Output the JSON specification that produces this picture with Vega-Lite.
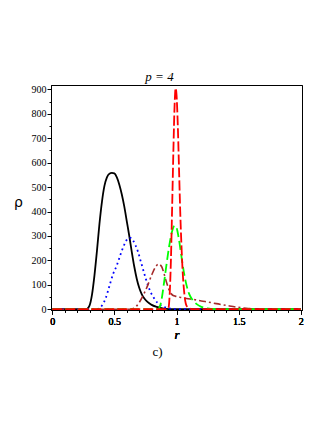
{
  "$schema": "https://vega.github.io/schema/vega-lite/v6.json",
  "autosize": "none",
  "padding": {"left": 51, "top": 85, "right": 25, "bottom": 113},
  "width": 251,
  "height": 225,
  "background": "white",
  "title": {"text": "c)", "orient": "bottom", "font": "Liberation Serif, Times New Roman, serif", "fontSize": 13, "fontWeight": "normal", "color": "black", "offset": 5, "dx": -19},
  "config": {
    "font": "Liberation Serif, Times New Roman, serif",
    "view": {"stroke": "black", "strokeWidth": 1},
    "axis": {"domainColor": "black", "tickColor": "black", "labelColor": "black", "titleColor": "black", "labelFont": "Liberation Serif, Times New Roman, serif", "labelFontSize": 10, "grid": false}
  },
  "data": {"values": [
    {"s":"black","r":0,"v":0},{"s":"black","r":0.25,"v":0},{"s":"black","r":0.28,"v":2},{"s":"black","r":0.30,"v":15},{"s":"black","r":0.32,"v":60},{"s":"black","r":0.34,"v":140},{"s":"black","r":0.36,"v":240},{"s":"black","r":0.38,"v":350},{"s":"black","r":0.40,"v":440},{"s":"black","r":0.42,"v":505},{"s":"black","r":0.44,"v":540},{"s":"black","r":0.46,"v":555},{"s":"black","r":0.48,"v":558},{"s":"black","r":0.50,"v":556},{"s":"black","r":0.52,"v":540},{"s":"black","r":0.54,"v":510},{"s":"black","r":0.56,"v":470},{"s":"black","r":0.58,"v":420},{"s":"black","r":0.60,"v":360},{"s":"black","r":0.62,"v":300},{"s":"black","r":0.64,"v":235},{"s":"black","r":0.66,"v":175},{"s":"black","r":0.68,"v":125},{"s":"black","r":0.70,"v":88},{"s":"black","r":0.72,"v":62},{"s":"black","r":0.74,"v":45},{"s":"black","r":0.76,"v":33},{"s":"black","r":0.78,"v":25},{"s":"black","r":0.80,"v":18},{"s":"black","r":0.84,"v":10},{"s":"black","r":0.88,"v":5},{"s":"black","r":0.92,"v":2},{"s":"black","r":0.96,"v":0.5},{"s":"black","r":1.0,"v":0},{"s":"black","r":2,"v":0},
    {"s":"blue","r":0,"v":0},{"s":"blue","r":0.34,"v":0},{"s":"blue","r":0.37,"v":2},{"s":"blue","r":0.40,"v":15},{"s":"blue","r":0.43,"v":45},{"s":"blue","r":0.46,"v":95},{"s":"blue","r":0.49,"v":145},{"s":"blue","r":0.52,"v":180},{"s":"blue","r":0.55,"v":225},{"s":"blue","r":0.58,"v":265},{"s":"blue","r":0.61,"v":290},{"s":"blue","r":0.63,"v":292},{"s":"blue","r":0.65,"v":282},{"s":"blue","r":0.67,"v":262},{"s":"blue","r":0.69,"v":236},{"s":"blue","r":0.71,"v":200},{"s":"blue","r":0.73,"v":165},{"s":"blue","r":0.75,"v":130},{"s":"blue","r":0.77,"v":98},{"s":"blue","r":0.79,"v":72},{"s":"blue","r":0.82,"v":45},{"s":"blue","r":0.85,"v":25},{"s":"blue","r":0.88,"v":14},{"s":"blue","r":0.92,"v":6},{"s":"blue","r":0.96,"v":2},{"s":"blue","r":1.0,"v":0.5},{"s":"blue","r":1.05,"v":0},{"s":"blue","r":2,"v":0},
    {"s":"brown","r":0,"v":0},{"s":"brown","r":0.62,"v":0},{"s":"brown","r":0.66,"v":5},{"s":"brown","r":0.70,"v":28},{"s":"brown","r":0.74,"v":65},{"s":"brown","r":0.77,"v":100},{"s":"brown","r":0.80,"v":140},{"s":"brown","r":0.83,"v":172},{"s":"brown","r":0.855,"v":185},{"s":"brown","r":0.88,"v":175},{"s":"brown","r":0.90,"v":145},{"s":"brown","r":0.92,"v":110},{"s":"brown","r":0.94,"v":80},{"s":"brown","r":0.96,"v":62},{"s":"brown","r":0.98,"v":55},{"s":"brown","r":1.00,"v":52},{"s":"brown","r":1.04,"v":48},{"s":"brown","r":1.08,"v":44},{"s":"brown","r":1.14,"v":40},{"s":"brown","r":1.20,"v":34},{"s":"brown","r":1.26,"v":29},{"s":"brown","r":1.32,"v":23},{"s":"brown","r":1.40,"v":16},{"s":"brown","r":1.48,"v":9},{"s":"brown","r":1.56,"v":4},{"s":"brown","r":1.65,"v":1},{"s":"brown","r":1.75,"v":0},{"s":"brown","r":2,"v":0},
    {"s":"green","r":0,"v":0},{"s":"green","r":0.84,"v":0},{"s":"green","r":0.86,"v":5},{"s":"green","r":0.88,"v":40},{"s":"green","r":0.90,"v":110},{"s":"green","r":0.92,"v":185},{"s":"green","r":0.94,"v":255},{"s":"green","r":0.96,"v":310},{"s":"green","r":0.98,"v":340},{"s":"green","r":0.99,"v":342},{"s":"green","r":1.00,"v":335},{"s":"green","r":1.02,"v":285},{"s":"green","r":1.04,"v":215},{"s":"green","r":1.06,"v":150},{"s":"green","r":1.08,"v":100},{"s":"green","r":1.10,"v":65},{"s":"green","r":1.13,"v":38},{"s":"green","r":1.16,"v":22},{"s":"green","r":1.20,"v":10},{"s":"green","r":1.25,"v":4},{"s":"green","r":1.30,"v":1},{"s":"green","r":1.40,"v":0},{"s":"green","r":2,"v":0},
    {"s":"red","r":0,"v":0},{"s":"red","r":0.92,"v":0},{"s":"red","r":0.935,"v":5},{"s":"red","r":0.945,"v":60},{"s":"red","r":0.955,"v":200},{"s":"red","r":0.965,"v":420},{"s":"red","r":0.975,"v":650},{"s":"red","r":0.985,"v":840},{"s":"red","r":0.993,"v":905},{"s":"red","r":1.0,"v":880},{"s":"red","r":1.01,"v":760},{"s":"red","r":1.02,"v":580},{"s":"red","r":1.03,"v":400},{"s":"red","r":1.04,"v":260},{"s":"red","r":1.05,"v":150},{"s":"red","r":1.06,"v":80},{"s":"red","r":1.07,"v":35},{"s":"red","r":1.08,"v":15},{"s":"red","r":1.10,"v":5},{"s":"red","r":1.12,"v":1},{"s":"red","r":1.15,"v":0},{"s":"red","r":2,"v":0}
  ]},
  "encoding": {
    "x": {"field": "r", "type": "quantitative", "scale": {"domain": [-0.01, 2.01], "nice": false, "zero": false},
      "axis": {"orient": "bottom", "values": [0,0.1,0.2,0.3,0.4,0.5,0.6,0.7,0.8,0.9,1,1.1,1.2,1.3,1.4,1.5,1.6,1.7,1.8,1.9,2],
        "format": "~g",
        "labelExpr": "abs(datum.value*2 - round(datum.value*2)) < 0.001 ? datum.label : ''",
        "tickSize": {"condition": {"test": "abs(datum.value*2 - round(datum.value*2)) < 0.001", "value": 4}, "value": 2},
        "labelPadding": 2, "labelFlush": false, "labelOverlap": false,
        "title": "r", "titleFont": "Liberation Serif, Times New Roman, serif", "titleFontStyle": "italic", "titleFontWeight": "normal", "titleFontSize": 13, "titlePadding": 2}},
    "y": {"field": "v", "type": "quantitative", "scale": {"domain": [-3, 918], "nice": false, "zero": false},
      "axis": {"values": [0,50,100,150,200,250,300,350,400,450,500,550,600,650,700,750,800,850,900],
        "labelExpr": "datum.value % 100 === 0 ? datum.label : ''",
        "tickSize": {"condition": {"test": "datum.value % 100 === 0", "value": 4}, "value": 2},
        "labelPadding": 1, "labelFlush": false, "labelOverlap": false,
        "title": "ρ", "titleFont": "DejaVu Sans", "titleFontWeight": "normal", "titleFontSize": 14, "titleAngle": 0, "titleX": -33, "titleY": 117, "titleAlign": "center", "titleBaseline": "middle"}}
  },
  "layer": [
    {"transform": [{"filter": "datum.s === 'black'"}], "mark": {"type": "line", "color": "black", "strokeWidth": 1.8, "interpolate": "monotone", "clip": true}},
    {"transform": [{"filter": "datum.s === 'blue'"}], "mark": {"type": "line", "color": "#0000ff", "strokeWidth": 1.8, "strokeDash": [1.8, 3.2], "interpolate": "monotone", "clip": true}},
    {"transform": [{"filter": "datum.s === 'brown'"}], "mark": {"type": "line", "color": "#a52a2a", "strokeWidth": 1.6, "strokeDash": [7, 3, 2, 3], "interpolate": "monotone", "clip": true}},
    {"transform": [{"filter": "datum.s === 'green'"}], "mark": {"type": "line", "color": "#00ff00", "strokeWidth": 1.8, "strokeDash": [9, 4], "interpolate": "monotone", "clip": true}},
    {"transform": [{"filter": "datum.s === 'red'"}], "mark": {"type": "line", "color": "#ff0000", "strokeWidth": 1.8, "strokeDash": [10, 3], "interpolate": "monotone", "clip": true},
      "encoding": {"x": {"field": "r", "type": "quantitative", "axis": {"orient": "top", "labels": false, "ticks": false, "domain": true, "title": "p = 4", "titleFont": "Liberation Serif, Times New Roman, serif", "titleFontStyle": "italic", "titleFontWeight": "normal", "titleFontSize": 13, "titlePadding": 2, "titleX": 108}}}}
  ],
  "resolve": {"axis": {"x": "independent"}}
}
